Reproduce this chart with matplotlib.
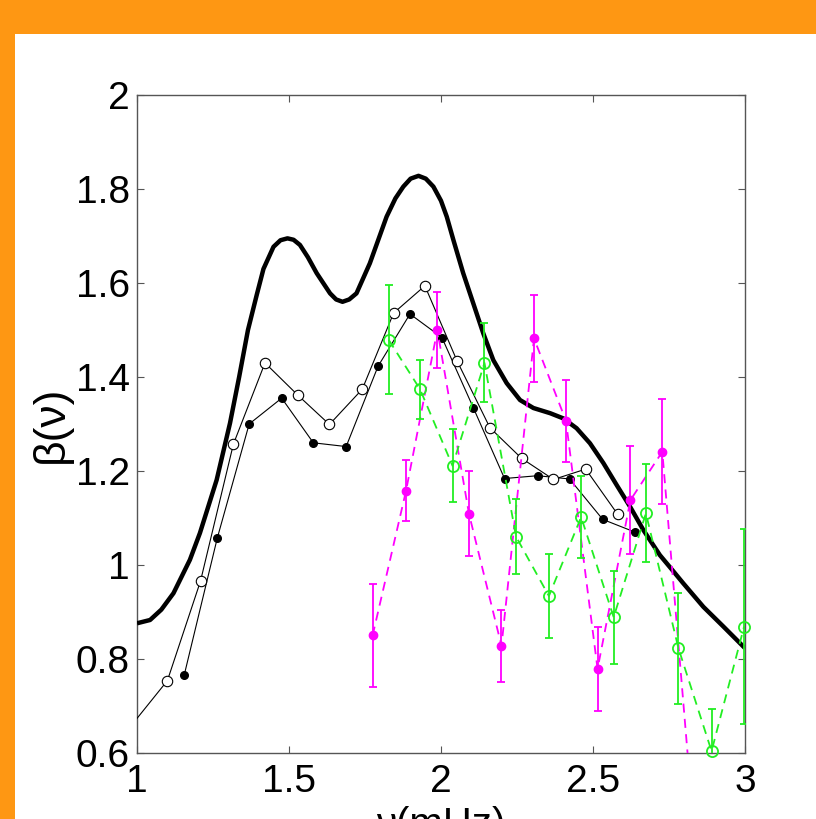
import numpy as np
import matplotlib
matplotlib.use("Agg")
import matplotlib.pyplot as plt
from matplotlib.patches import Rectangle

# ---------------- data ----------------
curve_x = [1.0, 1.043, 1.08, 1.12, 1.174, 1.207, 1.262, 1.306, 1.336, 1.365, 1.394, 1.416,
           1.449, 1.472, 1.495, 1.515, 1.536, 1.562, 1.591, 1.635, 1.655, 1.676, 1.698,
           1.722, 1.766, 1.821, 1.850, 1.876, 1.900, 1.926, 1.950, 1.975, 2.000, 2.019,
           2.041, 2.073, 2.106, 2.139, 2.172, 2.216, 2.260, 2.304, 2.359, 2.402, 2.446,
           2.490, 2.534, 2.578, 2.622, 2.666, 2.720, 2.760, 2.797, 2.863, 2.929, 3.0]
curve_y = [0.876, 0.883, 0.905, 0.940, 1.011, 1.068, 1.181, 1.302, 1.400, 1.500, 1.575, 1.630,
           1.677, 1.691, 1.695, 1.692, 1.681, 1.655, 1.621, 1.578, 1.565, 1.560, 1.565,
           1.578, 1.642, 1.741, 1.780, 1.805, 1.822, 1.828, 1.822, 1.805, 1.775, 1.741,
           1.691, 1.621, 1.557, 1.493, 1.436, 1.387, 1.351, 1.334, 1.323, 1.312, 1.291,
           1.259, 1.217, 1.170, 1.124, 1.074, 1.021, 0.990, 0.961, 0.911, 0.869, 0.823]

open_x = [0.993, 1.100, 1.209, 1.317, 1.421, 1.528, 1.633, 1.741, 1.844, 1.947, 2.053,
          2.161, 2.265, 2.370, 2.476, 2.581]
open_y = [0.668, 0.754, 0.966, 1.257, 1.430, 1.362, 1.299, 1.374, 1.536, 1.594, 1.434,
          1.292, 1.227, 1.182, 1.204, 1.108]

filled_x = [1.155, 1.264, 1.369, 1.476, 1.580, 1.688, 1.793, 1.898, 2.003, 2.106, 2.209,
            2.318, 2.423, 2.532, 2.638]
filled_y = [0.765, 1.057, 1.300, 1.355, 1.260, 1.252, 1.423, 1.534, 1.484, 1.335, 1.184,
            1.190, 1.183, 1.097, 1.070]

mag_x = [1.775, 1.885, 1.988, 2.092, 2.199, 2.306, 2.411, 2.515, 2.623, 2.728, 2.833]
mag_y = [0.850, 1.158, 1.500, 1.109, 0.828, 1.482, 1.307, 0.779, 1.138, 1.241, 0.43]
mag_err = [0.110, 0.065, 0.080, 0.090, 0.077, 0.092, 0.087, 0.089, 0.115, 0.112, 0.09]

green_x = [1.828, 1.931, 2.038, 2.143, 2.247, 2.355, 2.461, 2.568, 2.674, 2.781, 2.890, 2.997]
green_y = [1.479, 1.374, 1.211, 1.430, 1.060, 0.934, 1.102, 0.889, 1.110, 0.823, 0.604, 0.869]
green_err = [0.116, 0.063, 0.078, 0.084, 0.080, 0.090, 0.087, 0.099, 0.104, 0.118, 0.090, 0.207]

xticks = [1, 1.5, 2, 2.5, 3]
xtick_labels = ["1", "1.5", "2", "2.5", "3"]
yticks = [0.6, 0.8, 1.0, 1.2, 1.4, 1.6, 1.8, 2.0]
ytick_labels = ["0.6", "0.8", "1", "1.2", "1.4", "1.6", "1.8", "2"]
XLIM = (1, 3)
YLIM = (0.6, 2)

# ---------------- style ----------------
plt.rcParams['font.family'] = ['Liberation Sans', 'DejaVu Sans']
ORANGE = '#FE9713'
GREEN = '#22EE22'
MAGENTA = '#FF00FF'

W, H = 816, 819
fig = plt.figure(figsize=(W / 100, H / 100), dpi=100, facecolor=ORANGE)
bg = Rectangle((15 / W, 0), 1, (H - 34) / H, transform=fig.transFigure,
               facecolor='white', edgecolor='none', zorder=-10)
fig.patches.append(bg)

ax = fig.add_axes([137 / W, 66 / H, (745 - 137) / W, (753 - 95) / H])
ax.set_facecolor('white')
ax.set_zorder(1)


def inside(xs, ys):
    xs = np.asarray(xs); ys = np.asarray(ys)
    return (xs >= XLIM[0]) & (xs <= XLIM[1]) & (ys >= YLIM[0]) & (ys <= YLIM[1])


# thick curve
ax.plot(curve_x, curve_y, color='black', lw=3.2, solid_joinstyle='round',
        solid_capstyle='butt', zorder=3)

# open black circles
ax.plot(open_x, open_y, color='black', lw=0.8, zorder=4)
m = inside(open_x, open_y)
ax.plot(np.asarray(open_x)[m], np.asarray(open_y)[m], 'o', ms=7.5, mfc='white',
        mec='black', mew=0.8, ls='none', clip_on=False, zorder=5)

# filled black circles
ax.plot(filled_x, filled_y, color='black', lw=0.8, zorder=4)
m = inside(filled_x, filled_y)
ax.plot(np.asarray(filled_x)[m], np.asarray(filled_y)[m], 'o', ms=5.5, mfc='black',
        mec='black', ls='none', clip_on=False, zorder=5)

# magenta series
ax.errorbar(mag_x, mag_y, yerr=mag_err, fmt='none', ecolor=MAGENTA, elinewidth=1.3,
            capsize=3.2, capthick=1.3, zorder=6)
ax.plot(mag_x, mag_y, color=MAGENTA, lw=1.3, ls=(0, (5, 3.5)), zorder=6)
m = inside(mag_x, mag_y)
ax.plot(np.asarray(mag_x)[m], np.asarray(mag_y)[m], 'o', ms=6, mfc=MAGENTA, mec=MAGENTA,
        ls='none', clip_on=False, zorder=7)

# green series
ax.errorbar(green_x, green_y, yerr=green_err, fmt='none', ecolor=GREEN, elinewidth=1.3,
            capsize=3.2, capthick=1.3, zorder=8)
ax.plot(green_x, green_y, color=GREEN, lw=1.3, ls=(0, (5, 3.5)), zorder=8)
m = inside(green_x, green_y)
ax.plot(np.asarray(green_x)[m], np.asarray(green_y)[m], 'o', ms=8, mfc='none', mec=GREEN,
        mew=1.3, ls='none', clip_on=False, zorder=9)

ax.set_xlim(*XLIM)
ax.set_ylim(*YLIM)
ax.set_xticks(xticks)
ax.set_xticklabels(xtick_labels)
ax.set_yticks(yticks)
ax.set_yticklabels(ytick_labels)
ax.tick_params(direction='in', top=True, right=True, length=5, width=0.8,
               color='#555555', labelsize=28, labelcolor='black')
ax.tick_params(axis='x', pad=8)
ax.tick_params(axis='y', pad=5)
for s in ax.spines.values():
    s.set_color('#555555')
    s.set_linewidth(1.0)

ax.set_xlabel('ν(mHz)', fontsize=29, labelpad=4)
ax.set_ylabel('β(ν)', fontsize=32, labelpad=3)

fig.savefig('out.png', dpi=100, facecolor=ORANGE)
